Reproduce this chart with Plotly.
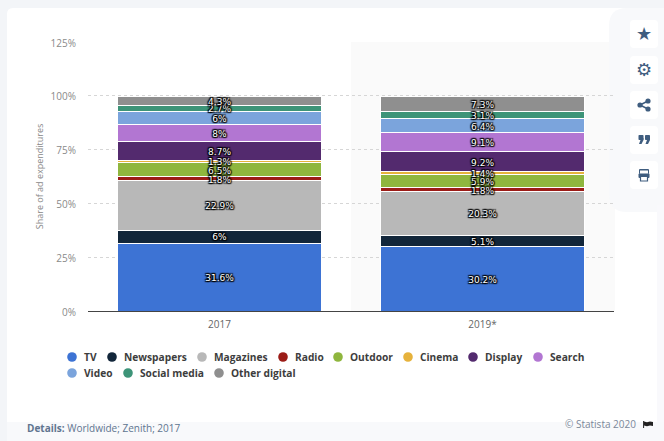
import plotly.graph_objects as go

years = ["2017", "2019*"]
categories = ["TV", "Newspapers", "Magazines", "Radio", "Outdoor", "Cinema",
              "Display", "Search", "Video", "Social media", "Other digital"]
values_2017 = [31.6, 6, 22.9, 1.8, 6.5, 1.3, 8.7, 8, 6, 2.7, 4.3]
values_2019 = [30.2, 5.1, 20.3, 1.8, 5.9, 1.4, 9.2, 9.1, 6.4, 3.1, 7.3]
colors = ["#3d73d4", "#12263a", "#b8b8b8", "#9b1c17", "#8fb63e", "#e6b23c",
          "#532a6e", "#b276d2", "#7ba4dc", "#3d9478", "#8f8f8f"]
y_ticks = [0, 25, 50, 75, 100, 125]
y_tick_labels = ["0%", "25%", "50%", "75%", "100%", "125%"]

L, R, T, B = 88, 614, 42, 311
W, H = 664, 441
FONT = "Open Sans"
ICON = "#3f5d7f"


def xp(px):
    return (px - L) / (R - L)


def yp(py):
    return (B - py) / (B - T)


def rect(x0, y0, x1, y1, fill, layer="below", line=None):
    return dict(type="rect", xref="paper", yref="paper", x0=xp(x0), x1=xp(x1),
                y0=yp(y1), y1=yp(y0), fillcolor=fill, layer=layer,
                line=dict(width=0) if line is None else line)


def P(x, y):
    return f"{xp(x)},{yp(y)}"


def rrect(x0, y0, x1, y1, r, fill, layer="below"):
    path = (f"M{P(x0+r,y0)} L{P(x1-r,y0)} Q{P(x1,y0)} {P(x1,y0+r)} L{P(x1,y1-r)} "
            f"Q{P(x1,y1)} {P(x1-r,y1)} L{P(x0+r,y1)} Q{P(x0,y1)} {P(x0,y1-r)} "
            f"L{P(x0,y0+r)} Q{P(x0,y0)} {P(x0+r,y0)} Z")
    return dict(type="path", xref="paper", yref="paper", path=path, fillcolor=fill,
                layer=layer, line=dict(width=0))


def poly(points, fill):
    path = "M" + " L".join(P(x, y) for x, y in points) + " Z"
    return dict(type="path", xref="paper", yref="paper", path=path, fillcolor=fill,
                layer="above", line=dict(width=0))


def circle(cx, cy, r, fill, layer="above"):
    return dict(type="circle", xref="paper", yref="paper", x0=xp(cx - r), x1=xp(cx + r),
                y0=yp(cy + r), y1=yp(cy - r), fillcolor=fill, layer=layer, line=dict(width=0))


def seg(x0, y0, x1, y1, color, w=1.5):
    return dict(type="line", xref="paper", yref="paper", x0=xp(x0), x1=xp(x1),
                y0=yp(y0), y1=yp(y1), layer="above", line=dict(color=color, width=w))


def label(x, y, text, size, color, anchor="left", **kw):
    return dict(xref="paper", yref="paper", x=xp(x), y=yp(y), text=text, showarrow=False,
                xanchor=anchor, yanchor="middle", align=anchor,
                font=dict(family=kw.pop("family", FONT), size=size, color=color), **kw)


halo = ("-1px -1px 1px #000, 1px -1px 1px #000, -1px 1px 1px #000, 1px 1px 1px #000, "
        "0 0 2px #000, 0 0 2px #000")

fig = go.Figure()
for i, cat in enumerate(categories):
    fig.add_trace(go.Bar(
        name=cat, x=years, y=[values_2017[i], values_2019[i]], width=0.776,
        marker=dict(color=colors[i], line=dict(color="#ffffff", width=1)),
        showlegend=False,
    ))

# value labels drawn above every bar, at each segment's stacked midpoint
for year, vals, nudge in zip(years, [values_2017, values_2019], [0.7, 0.9]):
    running, mids = 0, []
    for v in vals:
        mids.append(running + v / 2 - nudge)
        running += v
    fig.add_trace(go.Scatter(
        x=[year] * len(vals), y=mids, mode="text", text=[f"{v:g}%" for v in vals],
        textposition="middle center", cliponaxis=False, showlegend=False,
        textfont=dict(family="DejaVu Sans", size=9, color="#ffffff", shadow=halo),
    ))

shapes = [
    rect(0, 0, W, H, "#f3f5f8"),
    rrect(7, 8, W + 20, H + 20, 6, "#ffffff"),
    rect(7, 422, W, H, "#f8f9fb"),
    rect(351, T, R + 1, B, "#fafafa"),
    rrect(609, 8, W + 20, 212, 18, "#f8f9fb"),
    rect(657, 205, W, 422, "#f9f9fc"),
]

btn_tops = [20, 56, 91, 126, 161]
for top in btn_tops:
    shapes.append(rrect(630, top, 658, top + 28, 4, "#ffffff"))

# share icon
cx, cy = 644, 105
shapes += [seg(cx - 4, cy, cx + 4, cy - 4, ICON), seg(cx - 4, cy, cx + 4, cy + 4, ICON),
           circle(cx - 4, cy, 2.6, ICON), circle(cx + 4, cy - 4, 2.6, ICON),
           circle(cx + 4, cy + 4, 2.6, ICON)]
# quote icon
for qx in (638.5, 645):
    shapes.append(rrect(qx, 135, qx + 5, 140, 0.8, ICON, "above"))
    shapes.append(poly([(qx + 5, 138), (qx + 5, 140), (qx + 3, 144), (qx + 0.5, 144),
                        (qx + 2, 140)], ICON))
# print icon
cy = 175
shapes += [rrect(639, cy - 6, 649, cy - 1, 1, ICON, "above"),
           rrect(638.5, cy - 1.5, 649.5, cy + 3, 1, ICON, "above"),
           rect(640, cy - 4.5, 648, cy - 1.5, "#ffffff", "above"),
           rect(640.5, cy + 1.5, 647.5, cy + 6, "#ffffff", "above",
                dict(color=ICON, width=1.2))]
# flag icon
shapes += [seg(643.6, 421, 643.6, 428, "#222222", 1),
           poly([(644, 421.5), (647, 422.3), (650, 421.5), (653, 422), (653, 426),
                 (650, 425.5), (647, 426.3), (644, 425.5)], "#222222")]

annotations = [
    label(644, 33.5, "★", 18, ICON, "center", family="DejaVu Sans"),
    label(644, 69.5, "⚙", 18, ICON, "center", family="DejaVu Sans"),
    label(25, 428, "<b>Details:</b> Worldwide; Zenith; 2017", 10, "#5f7590"),
    label(638, 424, "© Statista 2020", 10, "#7a8899", "right"),
]

# legend
legend_x = [72, 112, 202, 283, 338, 408, 473, 538, 72, 128, 219]
legend_y = [357] * 8 + [373] * 3
for c, col, x, y in zip(categories, colors, legend_x, legend_y):
    shapes.append(circle(x, y, 4.8, col))
    annotations.append(label(x + 9.5, y, f"<b>{c}</b>", 10.2, "#3d3d3d"))

fig.update_layout(
    barmode="stack", bargap=0.224, width=W, height=H,
    margin=dict(l=L, r=W - R, t=T, b=H - B, pad=0),
    paper_bgcolor="#ffffff", plot_bgcolor="rgba(0,0,0,0)",
    font=dict(family=FONT, size=10, color="#666666"),
    shapes=shapes, annotations=annotations, showlegend=False,
    xaxis=dict(type="category", tickfont=dict(size=10, color="#666666"), ticks="",
               showline=False, showgrid=False, ticklen=0, ticklabelstandoff=6),
    yaxis=dict(range=[0, 125], tickvals=y_ticks, ticktext=y_tick_labels,
               tickfont=dict(size=10, color="#8a8a8a"), ticks="", ticklen=0,
               gridcolor="#d6d6d6", griddash="dot", gridwidth=1,
               zeroline=True, zerolinecolor="#444444", zerolinewidth=1,
               automargin=False, ticklabelstandoff=11, ticklabelshift=1,
               title=dict(text="Share of ad expenditures", standoff=5,
                          font=dict(size=9, color="#888888"))),
)

fig.write_html("out.html", config=dict(displayModeBar=False),
               post_script="document.body.style.margin='0';document.body.style.overflow='hidden';")
